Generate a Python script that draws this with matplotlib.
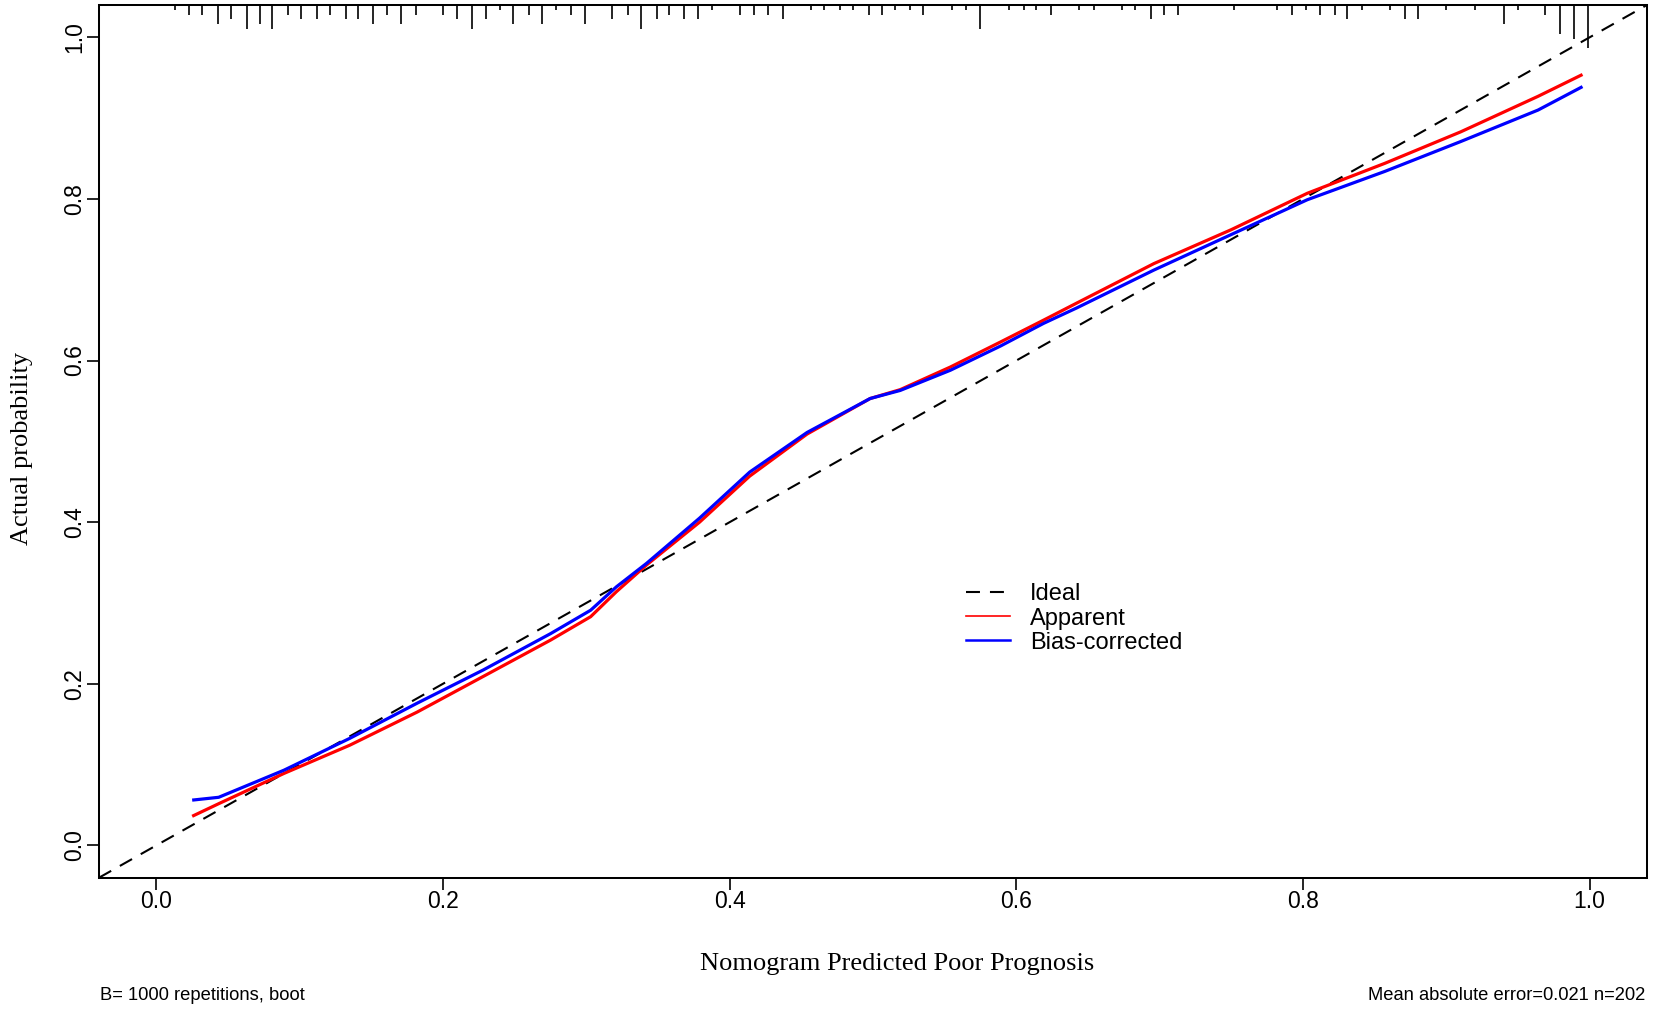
import numpy as np
import matplotlib
matplotlib.use('Agg')
import matplotlib.pyplot as plt
from matplotlib.lines import Line2D
from matplotlib.ticker import FormatStrFormatter

# calibration curves
app_x = [0.025, 0.044, 0.089, 0.135, 0.182, 0.228, 0.275, 0.303, 0.321, 0.342,
         0.379, 0.414, 0.454, 0.498, 0.519, 0.554, 0.589, 0.619, 0.642, 0.696,
         0.750, 0.803, 0.857, 0.910, 0.964, 0.995]
app_y = [0.036, 0.052, 0.089, 0.124, 0.165, 0.209, 0.254, 0.283, 0.314, 0.347,
         0.400, 0.457, 0.509, 0.553, 0.564, 0.592, 0.623, 0.650, 0.671, 0.720,
         0.762, 0.807, 0.844, 0.883, 0.927, 0.954]

bc_x = [0.025, 0.0435, 0.089, 0.135, 0.182, 0.228, 0.275, 0.303, 0.321, 0.342,
        0.379, 0.414, 0.454, 0.498, 0.519, 0.554, 0.589, 0.619, 0.642, 0.696,
        0.750, 0.803, 0.857, 0.910, 0.964, 0.995]
bc_y = [0.056, 0.0595, 0.093, 0.1325, 0.176, 0.217, 0.262, 0.291, 0.320, 0.349,
        0.405, 0.462, 0.511, 0.553, 0.563, 0.588, 0.618, 0.646, 0.665, 0.712,
        0.756, 0.799, 0.834, 0.871, 0.910, 0.939]

# rug at the top: predicted values and how many at each
rug_x = [0.013, 0.023, 0.032, 0.043, 0.052, 0.063, 0.072, 0.081, 0.092, 0.101,
         0.112, 0.121, 0.132, 0.141, 0.151, 0.161, 0.171, 0.181, 0.200, 0.210,
         0.220, 0.230, 0.240, 0.249, 0.260, 0.269, 0.279, 0.289, 0.299, 0.318,
         0.329, 0.338, 0.349, 0.358, 0.368, 0.378, 0.388, 0.407, 0.417, 0.427,
         0.437, 0.457, 0.466, 0.477, 0.486, 0.497, 0.506, 0.515, 0.526, 0.535,
         0.555, 0.565, 0.575, 0.595, 0.605, 0.614, 0.624, 0.644, 0.654, 0.674,
         0.683, 0.694, 0.703, 0.713, 0.752, 0.782, 0.792, 0.802, 0.812, 0.822,
         0.831, 0.841, 0.861, 0.871, 0.880, 0.900, 0.920, 0.940, 0.950, 0.969,
         0.979, 0.989, 0.999]
rug_n = [1, 2, 2, 4, 3, 5, 4, 5, 2, 3,
         3, 2, 3, 3, 4, 2, 4, 2, 2, 3,
         5, 3, 1, 4, 2, 4, 1, 2, 4, 3,
         2, 5, 3, 2, 3, 3, 1, 2, 2, 2,
         3, 1, 1, 1, 1, 2, 2, 1, 1, 2,
         1, 1, 5, 1, 1, 1, 2, 1, 1, 1,
         1, 3, 2, 2, 1, 1, 2, 1, 2, 2,
         3, 1, 1, 3, 3, 1, 1, 4, 1, 2,
         6, 7, 9]

xticks = [0.0, 0.2, 0.4, 0.6, 0.8, 1.0]
yticks = [0.0, 0.2, 0.4, 0.6, 0.8, 1.0]

W, H = 1654, 1009
fig = plt.figure(figsize=(W / 100, H / 100), dpi=100)
ax = fig.add_axes([99 / W, 1 - 877.7 / H, 1548 / W, 872.7 / H])
ax.set_xlim(-0.04, 1.04)
ax.set_ylim(-0.04, 1.04)

sans = 'Liberation Sans'
serif = 'Liberation Serif'

# ideal line
ax.axline((0, 0), slope=1, color='black', lw=1.5, ls=(0, (6.7, 4.8)))
ax.plot(app_x, app_y, color='#ff0000', lw=2.3, solid_capstyle='butt')
ax.plot(bc_x, bc_y, color='#0000ff', lw=2.3, solid_capstyle='butt')

# rug spikes hanging from the top axis
spike = 0.00594
top = ax.get_ylim()[1]
ax.vlines(rug_x, top - np.array(rug_n) * spike, top, color='black', lw=1.2)

for s in ax.spines.values():
    s.set_linewidth(1.45)
ax.set_xticks(xticks)
ax.set_yticks(yticks)
ax.xaxis.set_major_formatter(FormatStrFormatter('%.1f'))
ax.yaxis.set_major_formatter(FormatStrFormatter('%.1f'))
ax.tick_params(length=8.6, width=1.2, direction='out', labelsize=16.5, pad=0.5)
for lab in ax.get_xticklabels() + ax.get_yticklabels():
    lab.set_family(sans)
for lab in ax.get_yticklabels():
    lab.set_rotation(90)
    lab.set_va('center')

fig.text(21.7 / W, 1 - 448 / H, 'Actual probability', rotation=90,
         ha='center', va='center', family=serif, size=19)
fig.text(897.5 / W, 1 - 970 / H, 'Nomogram Predicted Poor Prognosis',
         ha='center', va='baseline', family=serif, size=19)

handles = [Line2D([], [], color='black', lw=1.5, ls=(0, (6.7, 4.8))),
           Line2D([], [], color='#ff0000', lw=1.2),
           Line2D([], [], color='#0000ff', lw=1.8)]
ax.legend(handles, ['Ideal', 'Apparent', 'Bias-corrected'],
          loc='upper left', bbox_to_anchor=(966 / W, 1 - 583.5 / H),
          bbox_transform=fig.transFigure, frameon=False, borderpad=0,
          borderaxespad=0, handlelength=1.86, handletextpad=0.85,
          labelspacing=0.09, prop={'family': sans, 'size': 17})

fig.text(100 / W, 1 - 1000 / H, 'B= 1000 repetitions, boot',
         ha='left', va='baseline', family=sans, size=13.2)
fig.text(1645 / W, 1 - 1000 / H, 'Mean absolute error=0.021 n=202',
         ha='right', va='baseline', family=sans, size=13.2)

fig.savefig('out.png', dpi=100, facecolor='white')
